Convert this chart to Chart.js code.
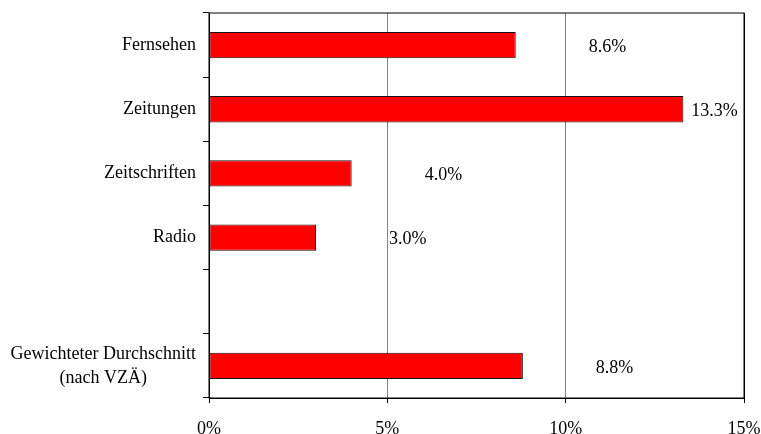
<!DOCTYPE html>
<html>
<head>
<meta charset="utf-8">
<script src="https://cdn.jsdelivr.net/npm/chart.js@4"></script>
<style>
  html, body { margin: 0; padding: 0; background: #fff; }
  #wrap { width: 761px; height: 434px; position: relative; }
</style>
</head>
<body>
<div id="wrap"><canvas id="myChart"></canvas></div>
<script>
var categories = [
    'Fernsehen',
    'Zeitungen',
    'Zeitschriften',
    'Radio',
    '',
    ['Gewichteter Durchschnitt', '(nach VZÄ)']
];
var values = [8.6, 13.3, 4.0, 3.0, null, 8.8];
var x_ticks = [0, 5, 10, 15];

var font_family = '"Liberation Serif", "Times New Roman", serif';
var font_size = 18;

// category names left of the axis, multi-line ones centred in their block
var category_labels = {
    id: 'category_labels',
    afterDraw(chart) {
        let ctx = chart.ctx;
        let yScale = chart.scales.y;
        let right = chart.chartArea.left - 13;
        ctx.save();
        ctx.font = font_size + 'px ' + font_family;
        ctx.fillStyle = '#000';
        ctx.textAlign = 'center';
        ctx.textBaseline = 'middle';
        for (let i = 0; i < categories.length; i++) {
            let lines = Array.isArray(categories[i]) ? categories[i] : [categories[i]];
            let w = 0;
            lines.forEach(l => { w = Math.max(w, ctx.measureText(l).width); });
            let cx = right - w / 2;
            let cy = yScale.getPixelForValue(i);
            let lh = 24;
            let y0 = cy - (lines.length - 1) * lh / 2;
            lines.forEach((l, k) => ctx.fillText(l, cx, y0 + k * lh));
        }
        ctx.restore();
    }
};

// percentage labels to the right of each bar, kept inside the frame
var value_labels = {
    id: 'value_labels',
    afterDatasetsDraw(chart) {
        let ctx = chart.ctx;
        let meta = chart.getDatasetMeta(0);
        let area = chart.chartArea;
        ctx.save();
        ctx.font = font_size + 'px ' + font_family;
        ctx.fillStyle = '#000';
        ctx.textAlign = 'left';
        ctx.textBaseline = 'middle';
        meta.data.forEach((bar, i) => {
            if (values[i] === null) return;
            let txt = values[i].toFixed(1) + '%';
            let w = ctx.measureText(txt).width;
            let x = bar.x + 73;
            if (x + w > area.right - 4) x = bar.x + 8;
            ctx.fillText(txt, x, bar.y + 2);
        });
        // frame round the plot area
        ctx.strokeStyle = '#000';
        ctx.lineWidth = 1;
        ctx.strokeRect(area.left, area.top, area.right - area.left, area.bottom - area.top);
        ctx.restore();
    }
};

var ctx = document.getElementById('myChart');
var chart = new Chart(ctx, {
    type: 'bar',
    data: {
        labels: categories,
        datasets: [{
            data: values,
            backgroundColor: '#ff0000',
            borderColor: '#111',
            borderWidth: 1,
            borderSkipped: false,
            barPercentage: 0.41,
            categoryPercentage: 1.0
        }]
    },
    options: {
        indexAxis: 'y',
        responsive: true,
        maintainAspectRatio: false,
        animation: false,
        layout: { padding: { top: 13, right: 17, bottom: 0, left: 0 } },
        scales: {
            x: {
                min: 0,
                max: 15,
                afterBuildTicks: s => { s.ticks = x_ticks.map(v => ({ value: v })); },
                afterFit: s => { s.height = 36; s.paddingLeft = 0; s.paddingRight = 0; },
                ticks: {
                    callback: v => v + '%',
                    color: '#000',
                    padding: 15,
                    maxRotation: 0,
                    font: { family: font_family, size: font_size }
                },
                grid: {
                    color: c => (c.tick && (c.tick.value === 5 || c.tick.value === 10)) ? '#808080' : '#000',
                    tickColor: '#000',
                    tickLength: 5,
                    lineWidth: 1
                },
                border: { color: '#000' }
            },
            y: {
                afterFit: s => { s.width = 209; s.paddingTop = 0; s.paddingBottom = 0; },
                ticks: { display: false },
                grid: {
                    offset: true,
                    drawOnChartArea: false,
                    tickColor: '#000',
                    tickLength: 6
                },
                border: { color: '#000' }
            }
        },
        plugins: {
            legend: { display: false },
            tooltip: { enabled: false }
        }
    },
    plugins: [category_labels, value_labels]
});
</script>
</body>
</html>
